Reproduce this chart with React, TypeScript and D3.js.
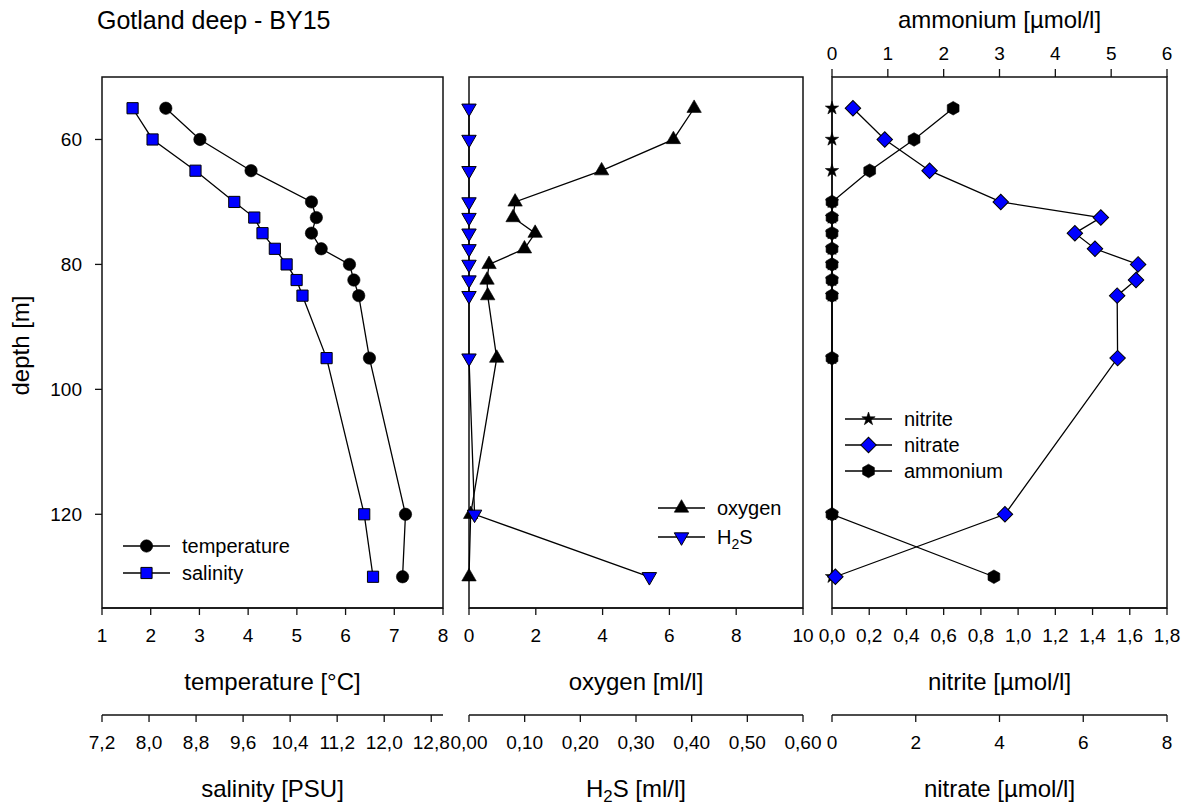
import React from 'react';
import * as d3 from 'd3';

// sampling depths [m]
const depths = [55, 60, 65, 70, 72.5, 75, 77.5, 80, 82.5, 85, 95, 120, 130];

// panel 1
const temperature = [2.31, 3.01, 4.06, 5.3, 5.4, 5.3, 5.5, 6.08, 6.17, 6.27, 6.49, 7.23, 7.17];
const salinity = [7.72, 8.06, 8.79, 9.45, 9.79, 9.93, 10.14, 10.34, 10.51, 10.61, 11.02, 11.66, 11.81];

// panel 2
const oxygen = [6.74, 6.12, 3.97, 1.38, 1.32, 1.98, 1.66, 0.6, 0.54, 0.56, 0.83, 0.05, 0];
const h2s = [0, 0, 0, 0, 0, 0, 0, 0, 0, 0, 0, 0.01, 0.324];

// panel 3
const nitrite = [0, 0, 0, 0, 0, 0, 0, 0, 0, 0, 0, 0, 0];
const nitrate = [0.5, 1.26, 2.33, 4.03, 6.42, 5.8, 6.28, 7.31, 7.26, 6.81, 6.82, 4.13, 0.08];
const ammonium = [2.17, 1.47, 0.675, 0, 0, 0, 0, 0, 0, 0, 0, 0, 2.9];

// tick values
const depthTicks = [60, 80, 100, 120];
const temperatureTicks = [1, 2, 3, 4, 5, 6, 7, 8];
const salinityTicks = [7.2, 8.0, 8.8, 9.6, 10.4, 11.2, 12.0, 12.8];
const oxygenTicks = [0, 2, 4, 6, 8, 10];
const h2sTicks = [0, 0.1, 0.2, 0.3, 0.4, 0.5, 0.6];
const nitriteTicks = [0, 0.2, 0.4, 0.6, 0.8, 1.0, 1.2, 1.4, 1.6, 1.8];
const nitrateTicks = [0, 2, 4, 6, 8];
const ammoniumTicks = [0, 1, 2, 3, 4, 5, 6];

const FONT = 'Liberation Sans, Arial, Helvetica, sans-serif';
const BLUE = '#0000ff';

const top = 77;
const bottom = 608;
const axis2Y = 715;

const y = d3.scaleLinear().domain([50, 135]).range([top, bottom]);

const p1 = [102, 443];
const p2 = [469, 803];
const p3 = [832, 1167];

const xTemp = d3.scaleLinear().domain([1, 8]).range(p1);
const xSal = d3.scaleLinear().domain([7.2, 13.0]).range(p1);
const xOxy = d3.scaleLinear().domain([0, 10]).range(p2);
const xH2s = d3.scaleLinear().domain([0, 0.6]).range(p2);
const xNitrite = d3.scaleLinear().domain([0, 1.8]).range(p3);
const xNitrate = d3.scaleLinear().domain([0, 8]).range(p3);
const xAmmo = d3.scaleLinear().domain([0, 6]).range(p3);

const comma = (digits: number) => (v: number) => v.toFixed(digits).replace('.', ',');

// hexagon marker path
const hexagon = (r: number) => {
  const pts = d3.range(6).map(i => {
    const a = (Math.PI / 3) * i;
    return [r * Math.cos(a), r * Math.sin(a)];
  });
  return 'M' + pts.map(p => p.join(',')).join('L') + 'Z';
};

type MarkerKind = 'circle' | 'square' | 'up' | 'down' | 'diamond' | 'hex' | 'star';

const markerPath = (kind: MarkerKind) => {
  switch (kind) {
    case 'circle': return d3.symbol(d3.symbolCircle, 120)()!;
    case 'square': return d3.symbol(d3.symbolSquare, 125)()!;
    case 'up':
    case 'down': return d3.symbol(d3.symbolTriangle, 90)()!;
    case 'diamond': return d3.symbol(d3.symbolSquare, 120)()!;
    case 'hex': return hexagon(6.8);
    case 'star': return d3.symbol(d3.symbolStar, 55)()!;
  }
};

const markerRotate = (kind: MarkerKind) =>
  kind === 'down' ? ' rotate(180)' : kind === 'diamond' ? ' rotate(45)' : kind === 'hex' ? ' rotate(90)' : '';

const Marker = ({ kind, x, y: yy, fill }: { kind: MarkerKind; x: number; y: number; fill: string }) => (
  <path
    d={markerPath(kind)}
    transform={`translate(${x},${yy})${markerRotate(kind)}`}
    fill={fill}
    stroke="#000"
    strokeWidth={fill === BLUE ? 1 : 0.6}
  />
);

const Series = ({ values, xs, kind, fill }: { values: number[]; xs: d3.ScaleLinear<number, number>; kind: MarkerKind; fill: string }) => {
  const line = d3.line<number>().x(v => xs(v)).y((_, i) => y(depths[i]));
  return (
    <g>
      <path d={line(values)!} fill="none" stroke="#000" strokeWidth={1.3} />
      {values.map((v, i) => (
        <Marker key={i} kind={kind} x={xs(v)} y={y(depths[i])} fill={fill} />
      ))}
    </g>
  );
};

const BottomAxis = ({ scale, ticks, yPos, fmt, label }: {
  scale: d3.ScaleLinear<number, number>; ticks: number[]; yPos: number; fmt: (v: number) => string; label: React.ReactNode;
}) => {
  const [r0, r1] = scale.range();
  return (
    <g>
      <line x1={r0} x2={r1} y1={yPos} y2={yPos} stroke="#111" strokeWidth={1.5} />
      {ticks.map(t => (
        <g key={t} transform={`translate(${scale(t)},${yPos})`}>
          <line y1={0} y2={7} stroke="#111" strokeWidth={1.3} />
          <text y={34} textAnchor="middle" fontSize={19}>{fmt(t)}</text>
        </g>
      ))}
      <text x={(r0 + r1) / 2} y={yPos + 82} textAnchor="middle" fontSize={24}>{label}</text>
    </g>
  );
};

const LegendRow = ({ x, yy, kind, fill, label }: { x: number; yy: number; kind: MarkerKind; fill: string; label: React.ReactNode }) => (
  <g>
    <line x1={x} x2={x + 47} y1={yy} y2={yy} stroke="#000" strokeWidth={1.3} />
    <Marker kind={kind} x={x + 23.5} y={yy} fill={fill} />
    <text x={x + 59} y={yy + 7} fontSize={20}>{label}</text>
  </g>
);

const H2S = () => (
  <>
    H<tspan fontSize="0.7em" dy={5}>2</tspan><tspan dy={-5}>S</tspan>
  </>
);

export default function App() {
  return (
    <svg width={1189} height={807} style={{ position: 'absolute', left: 0, top: 0, background: '#fff' }} fontFamily={FONT}>
      <rect width={1189} height={807} fill="#fff" />
      <text x={97} y={29} fontSize={25}>Gotland deep - BY15</text>

      {/* depth axis */}
      {depthTicks.map(t => (
        <g key={t} transform={`translate(${p1[0]},${y(t)})`}>
          <line x1={-7} x2={0} stroke="#111" strokeWidth={1.3} />
          <text x={-20} y={7} textAnchor="end" fontSize={19}>{t}</text>
        </g>
      ))}
      <text transform={`translate(29,${(top + bottom) / 2 + 3}) rotate(-90)`} textAnchor="middle" fontSize={24}>depth [m]</text>

      {/* panel frames */}
      {[p1, p2, p3].map((p, i) => (
        <rect key={i} x={p[0]} y={top} width={p[1] - p[0]} height={bottom - top} fill="none" stroke="#111" strokeWidth={1.5} />
      ))}

      {/* top ammonium axis */}
      {ammoniumTicks.map(t => (
        <g key={t} transform={`translate(${xAmmo(t)},${top})`}>
          <line y1={0} y2={-8} stroke="#111" strokeWidth={1.3} />
          <text y={-17} textAnchor="middle" fontSize={19}>{t}</text>
        </g>
      ))}
      <text x={(p3[0] + p3[1]) / 2} y={28} textAnchor="middle" fontSize={24}>ammonium [µmol/l]</text>

      {/* bottom axes */}
      <BottomAxis scale={xTemp} ticks={temperatureTicks} yPos={bottom} fmt={v => String(v)} label="temperature [°C]" />
      <BottomAxis scale={xSal} ticks={salinityTicks} yPos={axis2Y} fmt={comma(1)} label="salinity [PSU]" />
      <BottomAxis scale={xOxy} ticks={oxygenTicks} yPos={bottom} fmt={v => String(v)} label="oxygen [ml/l]" />
      <BottomAxis scale={xH2s} ticks={h2sTicks} yPos={axis2Y} fmt={comma(2)} label={<><H2S /> [ml/l]</>} />
      <BottomAxis scale={xNitrite} ticks={nitriteTicks} yPos={bottom} fmt={comma(1)} label="nitrite [µmol/l]" />
      <BottomAxis scale={xNitrate} ticks={nitrateTicks} yPos={axis2Y} fmt={v => String(v)} label="nitrate [µmol/l]" />

      {/* panel 1 */}
      <Series values={temperature} xs={xTemp} kind="circle" fill="#000" />
      <Series values={salinity} xs={xSal} kind="square" fill={BLUE} />
      <LegendRow x={123} yy={546} kind="circle" fill="#000" label="temperature" />
      <LegendRow x={123} yy={573} kind="square" fill={BLUE} label="salinity" />

      {/* panel 2 */}
      <Series values={oxygen} xs={xOxy} kind="up" fill="#000" />
      <Series values={h2s} xs={xH2s} kind="down" fill={BLUE} />
      <LegendRow x={658} yy={508} kind="up" fill="#000" label="oxygen" />
      <LegendRow x={658} yy={537} kind="down" fill={BLUE} label={<H2S />} />

      {/* panel 3 */}
      <Series values={nitrite} xs={xNitrite} kind="star" fill="#000" />
      <Series values={nitrate} xs={xNitrate} kind="diamond" fill={BLUE} />
      <Series values={ammonium} xs={xAmmo} kind="hex" fill="#000" />
      <LegendRow x={845} yy={419} kind="star" fill="#000" label="nitrite" />
      <LegendRow x={845} yy={445} kind="diamond" fill={BLUE} label="nitrate" />
      <LegendRow x={845} yy={471} kind="hex" fill="#000" label="ammonium" />
    </svg>
  );
}
